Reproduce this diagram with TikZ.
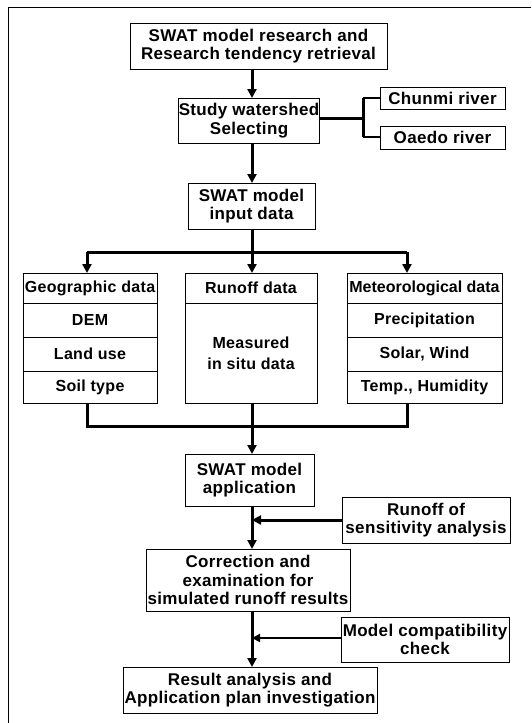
\documentclass[tikz,border=0pt]{standalone}
\usepackage{fontspec}
\setmainfont{Liberation Sans}[LetterSpace=2]
\newfontfamily\tightfont{Liberation Sans}
\usetikzlibrary{arrows.meta}
\begin{document}
\begin{tikzpicture}[x=1pt,y=-1pt,
  box/.style={draw,line width=0.9pt,inner sep=0pt,outer sep=0pt,align=center,
    font=\fontsize{17}{18.5}\selectfont\bfseries},
  dbox/.style={box,font=\fontsize{16}{21}\selectfont\bfseries},
  conn/.style={line width=3pt},
  arr/.style={line width=3pt,-{Triangle[width=9pt,length=9pt]}},
  thinarr/.style={line width=2pt,-{Triangle[width=8pt,length=8pt]}},
  frame/.style={line width=0.9pt}]
\useasboundingbox (0,0) rectangle (531,723);
% frame
\coordinate (f0) at (8.5,7.5);
\coordinate (f1) at (531,7.5);
\coordinate (f2) at (8.5,723);
\draw[frame] (f1) -- (f0) -- (f2);
% main axis
\coordinate (m) at (252,0);
% boxes
\node[box,minimum width=257pt,minimum height=46pt] (b1) at (258.5,46) {SWAT model research and\\Research tendency retrieval};
\node[box,minimum width=140pt,minimum height=45pt] (b2) at (249,120.5) {Study watershed\\Selecting};
\node[box,minimum width=125pt,minimum height=22pt] (ch) at (442.5,98) {Chunmi river};
\node[box,minimum width=125pt,minimum height=23pt] (oa) at (442.5,137.5) {Oaedo river};
\node[box,minimum width=127pt,minimum height=46pt] (b3) at (251.5,206) {SWAT model\\input data};
% geographic
\node[dbox,minimum width=134pt,minimum height=30pt] (gh) at (90,288) {Geographic data};
\node[dbox,minimum width=134pt,minimum height=34pt] (g1) at (90,320) {DEM};
\node[dbox,minimum width=134pt,minimum height=34pt] (g2) at (90,354) {Land use};
\node[dbox,minimum width=134pt,minimum height=32pt] (g3) at (90,387) {Soil type};
% runoff
\node[dbox,minimum width=132pt,minimum height=30pt] (rh) at (251,288) {Runoff data};
\node[dbox,minimum width=132pt,minimum height=100pt] (r1) at (251,353) {Measured\\in situ data};
% meteorological
\node[dbox,minimum width=155pt,minimum height=30pt] (mh) at (424.5,288) {\tightfont\bfseries Meteorological data};
\node[dbox,minimum width=155pt,minimum height=34pt] (m1) at (424.5,320) {Precipitation};
\node[dbox,minimum width=155pt,minimum height=34pt] (m2) at (424.5,354) {Solar, Wind};
\node[dbox,minimum width=155pt,minimum height=32pt] (m3) at (424.5,387) {Temp., Humidity};
% lower chain
\node[box,minimum width=129pt,minimum height=52pt] (b4) at (249.5,480) {SWAT model\\application};
\node[box,minimum width=168pt,minimum height=46pt] (sens) at (426,520) {Runoff of\\sensitivity analysis};
\node[box,minimum width=204pt,minimum height=62pt] (b5) at (248,580) {Correction and\\examination for\\simulated runoff results};
\node[box,minimum width=168pt,minimum height=45pt] (mc) at (425,639.5) {Model compatibility\\check};
\node[box,minimum width=254pt,minimum height=46pt] (b6) at (250,690) {Result analysis and\\Application plan investigation};
% connectors top
\draw[arr] (b1.south -| m) -- (b2.north -| m);
\draw[arr] (b2.south -| m) -- (b3.north -| m);
% bracket
\coordinate (br) at (363,118);
\coordinate (brt) at (363,98);
\coordinate (brb) at (363,137);
\draw[conn] (b2.east |- br) -- (br);
\draw[conn] (brt) -- (brb);
\draw[line width=2.5pt] (brt) -- (ch.west);
\draw[line width=2.5pt] (brb) -- (oa.west |- brb);
% distribution bus
\coordinate (bus) at (252,252);
\coordinate (busl) at (87,252);
\coordinate (busr) at (407,252);
\draw[conn] (b3.south -| m) -- (bus);
\draw[conn] (busl) -- (busr);
\draw[arr] (busl) -- (gh.north -| busl);
\draw[arr] (bus) -- (rh.north -| bus);
\draw[arr] (busr) -- (mh.north -| busr);
% collection bus
\coordinate (cl) at (87,426);
\coordinate (cr) at (407,426);
\draw[conn] (g3.south -| cl) -- (cl) -- (cr) -- (m3.south -| cr);
\draw[arr] (r1.south -| m) -- (b4.north -| m);
% lower chain
\draw[arr] (b4.south -| m) -- (b5.north -| m);
\draw[arr] (sens.west) -- (sens.west -| m);
\draw[arr] (b5.south -| m) -- (b6.north -| m);
\draw[thinarr] (mc.west |- 0,638) -- (m |- 0,638);
\end{tikzpicture}
\end{document}
